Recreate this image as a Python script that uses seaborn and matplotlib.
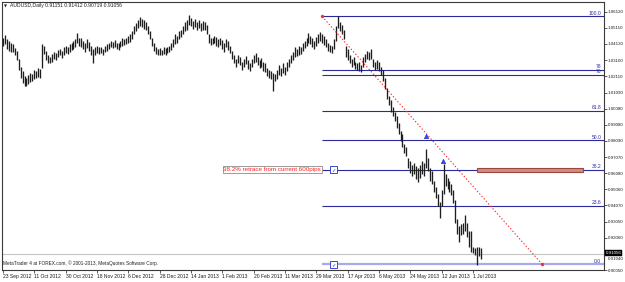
import numpy as np
import pandas as pd
import matplotlib
matplotlib.use("Agg")
import matplotlib.pyplot as plt
from matplotlib.patches import Rectangle
import seaborn as sns

# ---------------- data ----------------
symbol_title = "AUDUSD,Daily 0.91151 0.91412 0.90719 0.91056"
copyright_text = "MetaTrader 4 at FOREX.com, \u00a9 2001-2013, MetaQuotes Software Corp."

bar_high = [
    1.0450, 1.0468, 1.0440, 1.0430, 1.0420, 1.0410, 1.0385, 1.0370, 1.0320, 1.0270,
    1.0240, 1.0210, 1.0200, 1.0215, 1.0230, 1.0225, 1.0250, 1.0245, 1.0260, 1.0255,
    1.0410, 1.0400, 1.0370, 1.0345, 1.0330, 1.0350, 1.0360, 1.0355, 1.0375, 1.0380,
    1.0370, 1.0390, 1.0400, 1.0395, 1.0410, 1.0420, 1.0430, 1.0440, 1.0480, 1.0450,
    1.0445, 1.0430, 1.0420, 1.0440, 1.0425, 1.0400, 1.0380, 1.0395, 1.0400, 1.0390,
    1.0395, 1.0380, 1.0400, 1.0410, 1.0420, 1.0430, 1.0425, 1.0435, 1.0420, 1.0415,
    1.0430, 1.0445, 1.0440, 1.0450, 1.0460, 1.0470, 1.0490, 1.0520, 1.0540, 1.0560,
    1.0579, 1.0565, 1.0560, 1.0545, 1.0520, 1.0490, 1.0450, 1.0420, 1.0395, 1.0380,
    1.0385, 1.0375, 1.0390, 1.0385, 1.0395, 1.0400, 1.0420, 1.0440, 1.0470, 1.0460,
    1.0490, 1.0500, 1.0520, 1.0545, 1.0560, 1.0592, 1.0570, 1.0555, 1.0565, 1.0550,
    1.0560, 1.0540, 1.0555, 1.0545, 1.0530, 1.0470, 1.0445, 1.0450, 1.0460, 1.0455,
    1.0440, 1.0450, 1.0435, 1.0420, 1.0440, 1.0430, 1.0400, 1.0370, 1.0340, 1.0320,
    1.0340, 1.0330, 1.0300, 1.0320, 1.0335, 1.0310, 1.0290, 1.0320, 1.0340, 1.0355,
    1.0330, 1.0310, 1.0325, 1.0300, 1.0290, 1.0260, 1.0250, 1.0240, 1.0230, 1.0225,
    1.0250, 1.0280, 1.0260, 1.0290, 1.0270, 1.0300, 1.0320, 1.0345, 1.0360, 1.0390,
    1.0380, 1.0400, 1.0395, 1.0420, 1.0430, 1.0450, 1.0480, 1.0460, 1.0445, 1.0430,
    1.0455, 1.0470, 1.0485, 1.0475, 1.0460, 1.0440, 1.0420, 1.0405, 1.0400, 1.0440,
    1.0520, 1.0582, 1.0550, 1.0530, 1.0500, 1.0400, 1.0380, 1.0340, 1.0320, 1.0330,
    1.0300, 1.0295, 1.0300, 1.0280, 1.0330, 1.0350, 1.0370, 1.0360, 1.0378, 1.0320,
    1.0300, 1.0310, 1.0300, 1.0270, 1.0250, 1.0200, 1.0140, 1.0090, 1.0060, 1.0020,
    0.9990, 0.9960, 0.9920, 0.9870, 0.9850, 0.9790, 0.9770, 0.9700, 0.9680, 0.9660,
    0.9670, 0.9650, 0.9640, 0.9660, 0.9680, 0.9670, 0.9758, 0.9700, 0.9640, 0.9620,
    0.9560, 0.9520, 0.9480, 0.9430, 0.9500, 0.9666, 0.9600, 0.9580, 0.9560, 0.9540,
    0.9500, 0.9440, 0.9320, 0.9280, 0.9290, 0.9300, 0.9345, 0.9300, 0.9246, 0.9250,
    0.9150, 0.9140, 0.9145, 0.9150, 0.91412,
]
bar_low = [
    1.0400, 1.0410, 1.0380, 1.0370, 1.0358, 1.0360, 1.0340, 1.0310, 1.0250, 1.0200,
    1.0170, 1.0150, 1.0147, 1.0160, 1.0175, 1.0180, 1.0190, 1.0200, 1.0205, 1.0200,
    1.0260, 1.0350, 1.0310, 1.0295, 1.0290, 1.0300, 1.0320, 1.0310, 1.0330, 1.0340,
    1.0325, 1.0345, 1.0355, 1.0350, 1.0360, 1.0375, 1.0380, 1.0395, 1.0420, 1.0400,
    1.0395, 1.0380, 1.0360, 1.0385, 1.0370, 1.0340, 1.0295, 1.0345, 1.0355, 1.0350,
    1.0355, 1.0340, 1.0360, 1.0365, 1.0380, 1.0390, 1.0385, 1.0395, 1.0380, 1.0375,
    1.0390, 1.0400, 1.0405, 1.0410, 1.0415, 1.0425, 1.0440, 1.0470, 1.0490, 1.0510,
    1.0520, 1.0515, 1.0505, 1.0495, 1.0470, 1.0440, 1.0400, 1.0370, 1.0350, 1.0345,
    1.0345, 1.0340, 1.0350, 1.0345, 1.0355, 1.0360, 1.0375, 1.0390, 1.0410, 1.0420,
    1.0440, 1.0455, 1.0470, 1.0490, 1.0500, 1.0530, 1.0520, 1.0505, 1.0515, 1.0500,
    1.0510, 1.0490, 1.0500, 1.0495, 1.0470, 1.0420, 1.0405, 1.0410, 1.0415, 1.0400,
    1.0390, 1.0405, 1.0380, 1.0360, 1.0390, 1.0375, 1.0355, 1.0320, 1.0290, 1.0270,
    1.0290, 1.0280, 1.0250, 1.0270, 1.0285, 1.0255, 1.0240, 1.0270, 1.0290, 1.0300,
    1.0280, 1.0260, 1.0270, 1.0245, 1.0235, 1.0210, 1.0200, 1.0190, 1.0116, 1.0180,
    1.0195, 1.0215, 1.0210, 1.0230, 1.0220, 1.0240, 1.0270, 1.0290, 1.0310, 1.0330,
    1.0335, 1.0345, 1.0350, 1.0370, 1.0385, 1.0400, 1.0420, 1.0410, 1.0395, 1.0380,
    1.0400, 1.0420, 1.0430, 1.0420, 1.0405, 1.0395, 1.0370, 1.0360, 1.0357, 1.0380,
    1.0430, 1.0510, 1.0490, 1.0470, 1.0440, 1.0330, 1.0310, 1.0290, 1.0270, 1.0280,
    1.0255, 1.0250, 1.0240, 1.0234, 1.0270, 1.0300, 1.0315, 1.0310, 1.0320, 1.0270,
    1.0250, 1.0255, 1.0240, 1.0215, 1.0180, 1.0130, 1.0070, 1.0030, 0.9990, 0.9960,
    0.9930, 0.9890, 0.9850, 0.9810, 0.9770, 0.9730, 0.9715, 0.9640, 0.9610, 0.9592,
    0.9600, 0.9570, 0.9555, 0.9580, 0.9600, 0.9590, 0.9640, 0.9620, 0.9560, 0.9540,
    0.9493, 0.9450, 0.9400, 0.9327, 0.9400, 0.9480, 0.9530, 0.9510, 0.9490, 0.9470,
    0.9420, 0.9300, 0.9230, 0.9180, 0.9220, 0.9230, 0.9250, 0.9210, 0.9150, 0.9120,
    0.9110, 0.9100, 0.9037, 0.9090, 0.90719,
]

date_labels = ["23 Sep 2012", "11 Oct 2012", "30 Oct 2012", "18 Nov 2012", "6 Dec 2012",
               "28 Dec 2012", "14 Jan 2013", "1 Feb 2013", "20 Feb 2013", "11 Mar 2013",
               "29 Mar 2013", "17 Apr 2013", "6 May 2013", "24 May 2013", "12 Jun 2013",
               "1 Jul 2013"]
bars_per_label = 16

price_ticks = [1.06120, 1.05110, 1.04130, 1.03100, 1.02110, 1.01090, 1.00080, 0.99080,
               0.98090, 0.97070, 0.96080, 0.95060, 0.94070, 0.93050, 0.92060, 0.91040,
               0.90050]

bid_price = 0.91056

fib_levels = [0.0, 23.6, 38.2, 50.0, 61.8, 76.4, 78.6, 100.0]
fib_labels = ["0.0", "23.6", "38.2", "50.0", "61.8", "76", "78", "100.0"]
fib_high = 1.0582
fib_low = 0.9040
fib_high_bar = 163.0
fib_low_bar = 275.4

zone_bars = [242.0, 296.2]
zone_prices = [0.9613, 0.9639]

arrow_bars = [216.0, 224.7]
arrow_prices = [0.9838, 0.9684]

note_text = "38.2% retrace from current 600pips"

# ---------------- figure ----------------
W, H = 625, 282
sns.set_theme(style="white")
plt.rcParams["font.family"] = ["Liberation Sans", "DejaVu Sans"]

fig = plt.figure(figsize=(W / 100, H / 100), dpi=100)
fig.patch.set_facecolor("white")
ax = fig.add_axes([2 / W, 12 / H, 602 / W, 268 / H])
ax.set_facecolor("white")

n = len(bar_high)
df = pd.DataFrame({"bar": np.arange(n), "high": bar_high, "low": bar_low})

x_min, x_max = -0.5, 306.9
ax.set_xlim(x_min, x_max)
ax.set_ylim(0.9018, 1.0672)

# bid line
ax.axhline(bid_price, color="#c4c4c4", lw=0.8, zorder=1)

# candles (high-low bars)
ax.vlines(df["bar"], df["low"], df["high"], color="#1e1e1e", lw=0.95, zorder=3)

# fibonacci levels
rng = fib_high - fib_low
for lvl, lab in zip(fib_levels, fib_labels):
    p = fib_low + rng * lvl / 100.0
    if lvl == 0.0:
        ax.hlines(p, fib_high_bar, x_max, color="#a9a9ea", lw=1.6, zorder=2)
    else:
        ax.hlines(p, fib_high_bar, x_max, color="#2a2a9a", lw=0.8, zorder=2)
    ax.annotate(lab, (x_max, p), xytext=(-2, 0.6), textcoords="offset points",
                ha="right", va="bottom", fontsize=3.6, color="#2a2aa8", zorder=6)

# trend line of the fib tool (red dotted)
trend = pd.DataFrame({"bar": [fib_high_bar, fib_low_bar], "price": [fib_high, fib_low]})
sns.lineplot(data=trend, x="bar", y="price", ax=ax, color="#ff2a2a", lw=0.8,
             linestyle=(0, (1.2, 1.8)), zorder=4)
ax.plot(trend["bar"], trend["price"], ls="none", marker="o", ms=1.4, color="#ff2a2a", zorder=4)

# zone rectangle
ax.add_patch(Rectangle((zone_bars[0], zone_prices[0]), zone_bars[1] - zone_bars[0],
                       zone_prices[1] - zone_prices[0], facecolor="#cc8f88",
                       edgecolor="#9c463e", lw=0.8, zorder=5))

# arrows
ax.plot(arrow_bars, arrow_prices, ls="none", marker="^", ms=3.2, color="#2f4bff",
        markeredgecolor="#1a2ad0", markeredgewidth=0.4, zorder=6)

# note text + checkboxes
p382 = fib_low + rng * 0.382
ax.text(fib_high_bar - 0.6, p382, note_text, ha="right", va="center", fontsize=4.5,
        color="#ff2020", zorder=7,
        bbox=dict(boxstyle="square,pad=0.12", facecolor="white", edgecolor="#8a8a8a", lw=0.6))
for p in [p382, fib_low]:
    ax.text(fib_high_bar + 5.8, p, "\u2713", ha="center", va="center", fontsize=3.8,
            color="#1f2fd0", family=["DejaVu Sans"], zorder=7,
            bbox=dict(boxstyle="square,pad=0.25", facecolor="white", edgecolor="#3a48d8", lw=0.7))

# axes frame
for s in ax.spines.values():
    s.set_color("#3a3a3a")
    s.set_linewidth(0.8)

# y ticks on the right
ax.yaxis.tick_right()
ax.set_yticks(price_ticks)
ylabels = [f"{v:.5f}" if abs(v - 0.91040) > 1e-6 else "" for v in price_ticks]
ax.set_yticklabels(ylabels)
ax.tick_params(axis="y", which="both", right=True, left=False, length=1.8, width=0.5,
               labelsize=3.2, pad=0.8, colors="#1a1a1a")
ax.annotate("0.91040", (1.0, 0.91040), xycoords=("axes fraction", "data"),
            xytext=(2.6, -3.2), textcoords="offset points", ha="left", va="center",
            fontsize=3.2, color="#1a1a1a", annotation_clip=False)
ax.annotate(f"{bid_price:.5f}", (1.0, bid_price), xycoords=("axes fraction", "data"),
            xytext=(1.0, 0.6), textcoords="offset points", ha="left", va="center",
            fontsize=3.2, color="white", annotation_clip=False, zorder=10,
            bbox=dict(boxstyle="square,pad=0.2", facecolor="black", edgecolor="black", lw=0.3))

# x ticks
xt = [i * bars_per_label for i in range(len(date_labels))]
ax.set_xticks(xt)
ax.set_xticklabels(date_labels)
for lbl in ax.get_xticklabels():
    lbl.set_ha("left")
ax.tick_params(axis="x", which="both", bottom=True, length=2, width=0.5, labelsize=3.6,
               pad=1, colors="#1a1a1a")
ax.set_xlabel("")
ax.set_ylabel("")
ax.grid(False)

# title and copyright
ax.text(0.0035, 0.992, "\u25bc", transform=ax.transAxes, ha="left", va="top",
        fontsize=2.8, color="#202020", family=["DejaVu Sans"])
ax.text(0.013, 0.995, symbol_title, transform=ax.transAxes, ha="left", va="top",
        fontsize=3.6, color="#202020")
ax.text(0.002, 0.015, copyright_text, transform=ax.transAxes, ha="left", va="bottom",
        fontsize=3.4, color="#202020")

fig.savefig("out.png", dpi=100, facecolor="white")
